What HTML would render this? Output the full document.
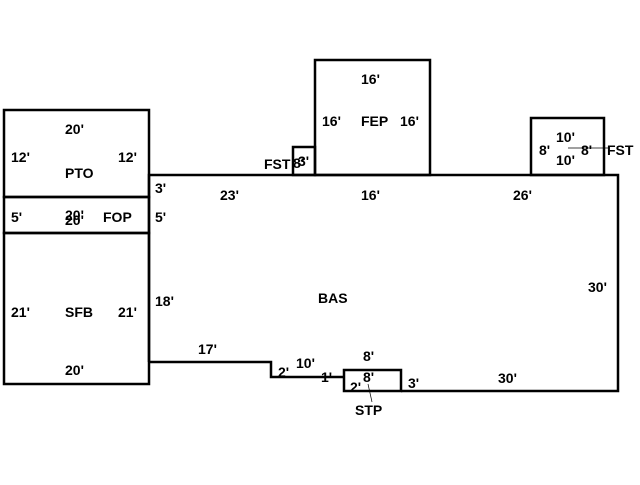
<!DOCTYPE html>
<html><head><style>body{margin:0;background:#fff}svg text{font-family:"Liberation Sans",sans-serif;font-weight:bold;font-size:14px;fill:#000}</style></head><body>
<svg width="640" height="480" xmlns="http://www.w3.org/2000/svg">
<g fill="none" stroke="#000" stroke-width="2.5">
<path d="M149,362 V175 H618 V391 H401 M344,377 H271 V362 H149"/>
<rect x="344" y="370" width="57" height="21"/>
<rect x="4" y="110" width="145" height="87"/>
<rect x="4" y="197" width="145" height="36"/>
<rect x="4" y="233" width="145" height="151"/>
<rect x="315" y="60" width="115" height="115"/>
<rect x="293" y="147" width="22" height="28"/>
<rect x="531" y="118" width="73" height="57"/>
</g>
<g stroke="#000" stroke-width="0.7"><line x1="568" y1="148" x2="610" y2="148"/><line x1="368" y1="384" x2="372" y2="402"/></g>
<text x="65" y="134">20'</text><text x="11" y="162">12'</text><text x="118" y="162">12'</text><text x="65" y="178">PTO</text>
<text x="11" y="222">5'</text><text x="65" y="220">20'</text><text x="65" y="225">20'</text><text x="103" y="222">FOP</text><text x="155" y="222">5'</text>
<text x="11" y="317">21'</text><text x="65" y="317">SFB</text><text x="118" y="317">21'</text><text x="65" y="375">20'</text>
<text x="155" y="193">3'</text><text x="220" y="200">23'</text><text x="361" y="200">16'</text><text x="513" y="200">26'</text>
<text x="155" y="306">18'</text><text x="318" y="303">BAS</text><text x="588" y="292">30'</text>
<text x="198" y="354">17'</text><text x="278" y="377">2'</text><text x="296" y="368">10'</text><text x="321" y="382">1'</text>
<text x="363" y="361">8'</text><text x="363" y="382">8'</text><text x="350" y="392">2'</text><text x="408" y="388">3'</text><text x="498" y="383">30'</text>
<text x="355" y="415">STP</text>
<text x="361" y="84">16'</text><text x="322" y="126">16'</text><text x="361" y="126">FEP</text><text x="400" y="126">16'</text>
<text x="264" y="169">FST</text><text x="293" y="168">8'</text><text x="298" y="166">3'</text>
<text x="556" y="142">10'</text><text x="539" y="155">8'</text><text x="581" y="155">8'</text><text x="556" y="165">10'</text><text x="607" y="155">FST</text>
</svg>
</body></html>
